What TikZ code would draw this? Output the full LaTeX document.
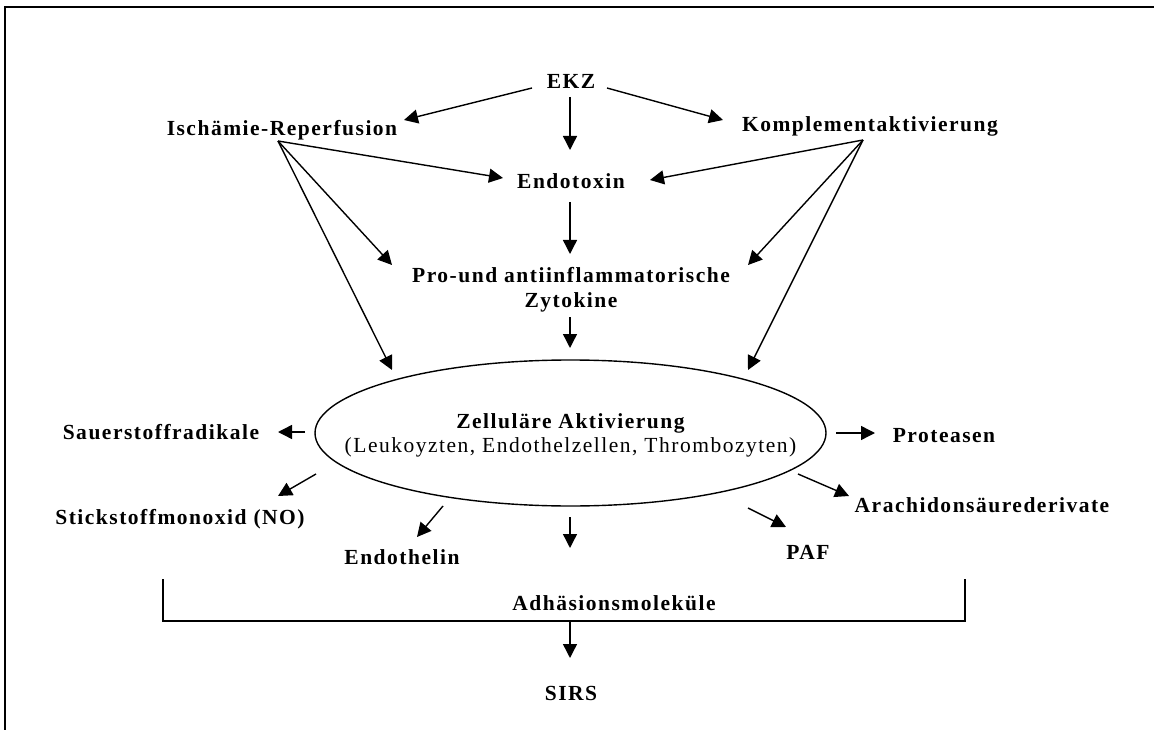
\documentclass[tikz,border=0pt]{standalone}
\usepackage{fontspec}
\setmainfont{Liberation Serif}[LetterSpace=7]
\usetikzlibrary{arrows.meta,calc,shapes.geometric}
\begin{document}
\begin{tikzpicture}[x=1pt,y=-1pt,
  lab/.style={font=\fontsize{21.5}{25}\selectfont\bfseries, inner sep=0pt, text height=14.2pt, text depth=0pt},
  lab2/.style={font=\fontsize{21.5}{25}\selectfont\bfseries, inner sep=0pt, align=center, anchor=north},
  ellnode/.style={ellipse, draw, line width=1.4pt, inner sep=0pt, minimum width=511pt, minimum height=146pt},
  elltext/.style={inner sep=0pt, align=center, font=\fontsize{21.5}{24}\selectfont},
  arr/.style={line width=1.4pt, -{Triangle[length=14pt,width=14pt]}},
  plain/.style={line width=1.4pt},
  frame/.style={line width=2.2pt}]
\useasboundingbox (0,0) rectangle (1154,730);
\draw[frame] (5,730) -- (5,7) -- (1154,7);

\node[lab] (ekz) at (571,81) {EKZ};
\node[lab] (isch) at (282,128) {Ischämie-Reperfusion};
\node[lab] (kompl) at (870,124) {Komplementaktivierung};
\node[lab] (endo) at (571,181) {Endotoxin};
\node[lab2] (pro) at (571,267) {Pro-und antiinflammatorische\\Zytokine};
\node[ellnode] (ell) at (570.5,433) {};
\node[elltext] (ellt) at ($(ell)+(0,2)$) {\bfseries Zelluläre Aktivierung\\(Leukoyzten, Endothelzellen, Thrombozyten)};
\node[lab] (sauer) at (161,432) {Sauerstoffradikale};
\node[lab] (stick) at (180,517) {Stickstoffmonoxid (NO)};
\node[lab] (endoth) at (402,557) {Endothelin};
\node[lab] (adh) at (614,603) {Adhäsionsmoleküle};
\node[lab] (paf) at (808,552) {PAF};
\node[lab] (arach) at (982,505) {Arachidonsäurederivate};
\node[lab] (prot) at (944,435) {Proteasen};
\node[lab] (sirs) at (571,693) {SIRS};

% top arrows
\draw[arr] ($(ekz)+(-39,7)$) -- ($(isch)+(122,-8)$);
\draw[arr] ($(ekz)+(36,7)$) -- ($(kompl)+(-147,-4)$);
\draw[arr] ($(ekz)+(-1,16)$) -- ($(endo)+(-1,-31)$);
\draw[arr] ($(isch)+(-4,13)$) -- ($(endo)+(-68,-3)$);
\draw[arr] ($(kompl)+(-7,16)$) -- ($(endo)+(79,-1)$);
\draw[arr] ($(isch)+(-4,13)$) -- ($(pro.north)+(-179,-2)$);
\draw[arr] ($(isch)+(-4,13)$) -- ($(ell)+(-178.5,-63)$);
\draw[arr] ($(kompl)+(-7,16)$) -- ($(pro.north)+(177,-2)$);
\draw[arr] ($(kompl)+(-7,16)$) -- ($(ell)+(177.5,-63)$);
\draw[arr] ($(endo)+(-1,21)$) -- ($(pro.north)+(-1,-13)$);
\draw[arr] ($(pro.north)+(-1,50)$) -- ($(ell)+(-0.5,-85)$);

% outgoing arrows
\draw[arr] ($(ell)+(-265.5,-1)$) -- ($(sauer)+(117,0)$);
\draw[arr] ($(ell)+(-254.5,41)$) -- ($(stick)+(98,-21)$);
\draw[arr] ($(ell)+(-127.5,73)$) -- ($(endoth)+(15,-20)$);
\draw[arr] ($(ell)+(-0.5,84)$) -- ($(adh)+(-44,-55)$);
\draw[arr] ($(ell)+(177.5,75)$) -- ($(paf)+(-22,-25)$);
\draw[arr] ($(ell)+(227.5,41)$) -- ($(arach)+(-133,-9)$);
\draw[arr] ($(ell)+(265.5,0)$) -- ($(prot)+(-69,-2)$);

% bracket
\coordinate (bl) at (163,579);
\coordinate (br) at (965,579);
\coordinate (bm) at (570,621);
\draw[plain] (bl) |- (bm) -| (br);
\draw[arr] (bm) -- ($(sirs)+(-1,-35)$);
\end{tikzpicture}
\end{document}
